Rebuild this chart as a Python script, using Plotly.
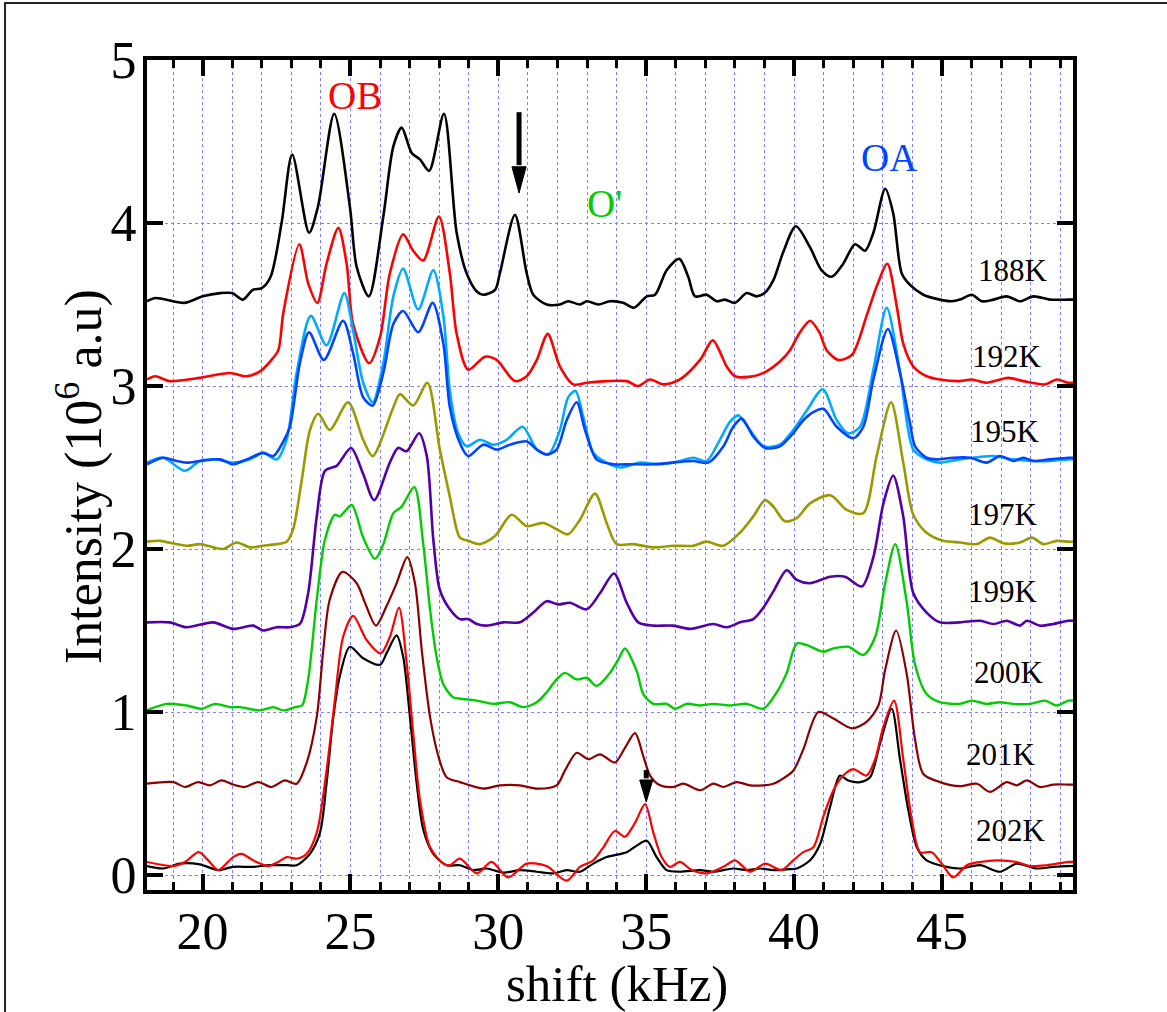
import plotly.graph_objects as go

# ---------------- data (shift in kHz, intensity in 10^6 a.u., offset per temperature) -------------
x_188 = [18.12, 18.4, 19.4, 20.0, 20.6, 21.0, 21.36, 21.7, 22.0, 22.3, 22.67, 23.03, 23.6, 23.9, 24.45, 24.98,
         25.21, 25.62, 26.11, 26.45, 26.73, 27.07, 27.35, 27.66, 28.16, 28.59, 28.93, 29.27, 29.49, 29.89,
         30.05, 30.56, 30.96, 31.18, 31.63, 32.08, 32.36, 32.76, 32.99, 33.38, 33.77, 34.22, 34.59, 35.02,
         35.30, 35.69, 36.12, 36.42, 36.65, 37.04, 37.38, 37.66, 38.00, 38.40, 38.73, 39.0, 39.30, 39.63,
         40.06, 40.54, 40.93, 41.27, 41.66, 42.06, 42.40, 42.68, 43.08, 43.35, 43.64, 43.92, 44.37, 44.93,
         45.33, 45.61, 46.01, 46.34, 46.74, 47.19, 47.64, 48.09, 48.65, 49.27, 49.43]
y_188 = [3.52, 3.54, 3.51, 3.55, 3.57, 3.57, 3.53, 3.59, 3.60, 3.67, 4.00, 4.42, 3.94, 4.10, 4.67, 4.10,
         3.73, 3.55, 4.04, 4.47, 4.585, 4.43, 4.39, 4.32, 4.67, 3.94, 3.69, 3.58, 3.56, 3.59,
         3.69, 4.05, 3.69, 3.56, 3.50, 3.50, 3.52, 3.50, 3.52, 3.50, 3.52, 3.51, 3.48, 3.55,
         3.56, 3.71, 3.78, 3.67, 3.55, 3.56, 3.52, 3.53, 3.51, 3.57, 3.55, 3.57, 3.65, 3.82,
         3.98, 3.85, 3.71, 3.67, 3.75, 3.87, 3.83, 3.94, 4.21, 4.06, 3.69, 3.62, 3.56, 3.53,
         3.52, 3.53, 3.56, 3.52, 3.53, 3.55, 3.52, 3.55, 3.53, 3.53, 3.53]

x_192 = [18.12, 18.4, 18.89, 19.91, 20.92, 21.49, 21.94, 22.28, 22.56, 22.73, 23.27, 23.57, 23.88, 24.19,
         24.59, 24.87, 25.09, 25.63, 26.0, 26.33, 26.78, 27.12, 27.46, 27.99, 28.36, 28.59, 28.98, 29.55,
         29.94, 30.56, 30.96, 31.30, 31.67, 32.08, 32.53, 32.99, 33.66, 34.34, 34.73, 35.13, 35.58, 36.14,
         36.82, 37.25, 37.72, 38.00, 38.62, 39.07, 39.52, 39.86, 40.20, 40.54, 40.85, 41.10, 41.49, 41.95,
         42.45, 42.79, 43.15, 43.47, 43.69, 44.03, 44.48, 44.93, 45.61, 46.01, 46.51, 47.24, 47.75, 48.48,
         48.88, 49.27, 49.43]
y_192 = [3.04, 3.06, 3.03, 3.05, 3.08, 3.06, 3.09, 3.15, 3.22, 3.45, 3.87, 3.63, 3.51, 3.75,
         3.97, 3.75, 3.38, 3.14, 3.30, 3.69, 3.93, 3.83, 3.77, 4.04, 3.69, 3.32, 3.10, 3.18,
         3.16, 3.03, 3.06, 3.16, 3.32, 3.12, 3.01, 3.02, 3.03, 3.03, 3.00, 3.04, 3.01, 3.04,
         3.16, 3.28, 3.12, 3.06, 3.06, 3.09, 3.15, 3.22, 3.33, 3.40, 3.33, 3.22, 3.16, 3.19,
         3.43, 3.61, 3.75, 3.49, 3.26, 3.12, 3.06, 3.04, 3.03, 3.04, 3.02, 3.05, 3.03, 3.01,
         3.04, 3.02, 3.02]

x_195a = [18.12, 18.67, 19.40, 19.91, 20.47, 21.03, 21.60, 22.05, 22.50, 22.84, 23.18, 23.66, 24.19, 24.79,
          25.09, 25.43, 25.75, 26.11, 26.45, 26.78, 27.29, 27.80, 28.14, 28.36, 28.64, 28.93, 29.38, 29.83,
          30.28, 30.82, 31.30, 31.69, 32.08, 32.36, 32.61, 32.87, 33.21, 33.55, 34.11, 34.79, 35.47, 36.14,
          36.59, 37.04, 37.49, 37.83, 38.11, 38.51, 38.96, 39.52, 39.97, 40.43, 40.97, 41.44, 41.83, 42.23,
          42.68, 43.13, 43.58, 44.03, 44.48, 44.93, 45.61, 46.74, 47.41, 48.09, 48.65, 49.27, 49.43]
y_195a = [2.53, 2.56, 2.48, 2.54, 2.55, 2.53, 2.55, 2.59, 2.55, 2.67, 3.08, 3.43, 3.25, 3.57,
          3.34, 3.02, 2.90, 3.14, 3.55, 3.72, 3.47, 3.71, 3.43, 2.97, 2.71, 2.63, 2.67, 2.64,
          2.67, 2.75, 2.61, 2.58, 2.73, 2.93, 2.97, 2.81, 2.59, 2.54, 2.50, 2.53, 2.52, 2.54,
          2.56, 2.54, 2.67, 2.78, 2.82, 2.73, 2.63, 2.64, 2.73, 2.85, 2.98, 2.79, 2.71, 2.75,
          3.10, 3.48, 3.09, 2.61, 2.55, 2.53, 2.55, 2.57, 2.55, 2.54, 2.54, 2.55, 2.55]

x_195b = [18.12, 18.67, 19.12, 19.46, 19.91, 20.59, 21.03, 21.49, 22.05, 22.39, 22.73, 22.95, 23.29, 23.60,
          24.10, 24.75, 25.09, 25.43, 25.75, 26.11, 26.45, 26.78, 27.29, 27.78, 28.14, 28.36, 28.70, 28.98,
          29.49, 29.94, 30.39, 30.96, 31.30, 31.63, 31.97, 32.31, 32.65, 32.93, 33.32, 33.89, 34.56, 35.24,
          35.91, 36.59, 37.10, 37.61, 37.94, 38.23, 38.62, 39.02, 39.52, 39.97, 40.31, 40.65, 40.99, 41.44,
          42.00, 42.34, 42.68, 43.17, 43.58, 43.92, 44.09, 44.48, 44.82, 45.38, 45.95, 46.51, 46.96, 47.41,
          47.75, 48.09, 48.65, 49.27, 49.43]
y_195b = [2.52, 2.56, 2.54, 2.53, 2.54, 2.55, 2.52, 2.55, 2.59, 2.57, 2.66, 2.75, 3.14, 3.33,
          3.16, 3.40, 3.20, 2.93, 2.88, 3.08, 3.38, 3.46, 3.33, 3.51, 3.26, 2.87, 2.65, 2.57,
          2.64, 2.61, 2.64, 2.66, 2.61, 2.58, 2.61, 2.79, 2.90, 2.73, 2.55, 2.52, 2.52, 2.52,
          2.53, 2.54, 2.53, 2.63, 2.75, 2.80, 2.69, 2.62, 2.63, 2.71, 2.79, 2.84, 2.86, 2.75,
          2.68, 2.75, 3.04, 3.35, 3.08, 2.77, 2.63, 2.56, 2.55, 2.56, 2.56, 2.53, 2.57, 2.54,
          2.56, 2.54, 2.55, 2.56, 2.56]

x_197 = [18.12, 18.56, 19.46, 19.91, 20.36, 20.70, 21.15, 21.60, 22.05, 22.50, 22.84, 23.06, 23.35, 23.63,
         23.91, 24.30, 24.92, 25.43, 25.75, 26.45, 26.67, 27.12, 27.60, 28.02, 28.36, 28.59, 28.70, 28.98,
         29.38, 29.89, 30.45, 30.96, 31.52, 32.08, 32.36, 32.76, 33.27, 33.66, 34.00, 34.56, 35.24, 35.91,
         36.59, 37.04, 37.61, 38.17, 38.62, 39.02, 39.30, 39.69, 40.09, 40.54, 41.22, 41.78, 42.34, 42.79,
         43.28, 43.69, 44.03, 44.48, 45.05, 45.61, 46.18, 46.62, 47.07, 47.64, 48.04, 48.43, 48.88, 49.27, 49.43]
y_197 = [2.045, 2.05, 2.02, 2.03, 2.01, 2.00, 2.04, 2.01, 2.02, 2.03, 2.045, 2.12, 2.42, 2.73,
         2.83, 2.73, 2.90, 2.67, 2.57, 2.87, 2.95, 2.88, 3.02, 2.61, 2.32, 2.12, 2.07, 2.05,
         2.03, 2.08, 2.21, 2.14, 2.16, 2.11, 2.09, 2.18, 2.34, 2.16, 2.03, 2.03, 2.01, 2.02,
         2.02, 2.045, 2.02, 2.10, 2.20, 2.30, 2.26, 2.17, 2.19, 2.28, 2.33, 2.24, 2.22, 2.57,
         2.90, 2.53, 2.21, 2.10, 2.05, 2.04, 2.03, 2.07, 2.035, 2.04, 2.07, 2.03, 2.05, 2.045, 2.045]

x_199 = [18.12, 18.89, 19.46, 20.36, 21.03, 21.71, 22.05, 22.50, 22.95, 23.29, 23.57, 23.86, 24.14, 24.53,
         25.02, 25.43, 25.80, 26.33, 26.61, 26.90, 27.32, 27.58, 27.80, 28.02, 28.36, 28.70, 28.98, 29.27,
         29.60, 30.17, 30.73, 31.18, 31.63, 32.03, 32.42, 32.99, 33.44, 33.91, 34.34, 34.73, 35.24, 35.91,
         36.48, 37.27, 37.72, 38.17, 38.62, 38.96, 39.30, 39.75, 40.09, 40.54, 41.22, 41.72, 42.29, 42.68,
         43.02, 43.35, 43.69, 44.03, 44.48, 44.93, 45.61, 46.29, 46.74, 47.19, 47.64, 47.87, 48.31, 48.77,
         49.27, 49.43]
y_199 = [1.55, 1.55, 1.52, 1.55, 1.51, 1.53, 1.50, 1.52, 1.52, 1.54, 1.73, 2.20, 2.48, 2.51,
         2.62, 2.46, 2.30, 2.53, 2.62, 2.60, 2.71, 2.57, 2.06, 1.75, 1.63, 1.57, 1.57, 1.54,
         1.53, 1.55, 1.55, 1.61, 1.68, 1.66, 1.67, 1.63, 1.73, 1.85, 1.67, 1.55, 1.53, 1.53,
         1.51, 1.54, 1.52, 1.55, 1.57, 1.64, 1.74, 1.87, 1.81, 1.79, 1.83, 1.83, 1.77, 1.95,
         2.28, 2.45, 2.20, 1.73, 1.61, 1.55, 1.55, 1.56, 1.54, 1.56, 1.53, 1.56, 1.53, 1.54,
         1.56, 1.56]

x_200 = [18.12, 18.78, 19.46, 19.97, 20.42, 20.92, 21.26, 21.94, 22.39, 22.73, 23.12, 23.36, 23.57, 23.86,
         24.14, 24.47, 24.64, 25.04, 25.43, 25.83, 26.11, 26.45, 26.73, 27.16, 27.46, 27.69, 27.91, 28.14,
         28.47, 28.81, 29.27, 29.83, 30.39, 30.84, 31.30, 31.63, 31.97, 32.25, 32.65, 32.99, 33.32, 33.77,
         34.05, 34.28, 34.68, 34.90, 35.24, 35.69, 35.97, 36.37, 36.82, 37.27, 37.83, 38.40, 38.96, 39.41,
         39.75, 40.09, 40.43, 40.99, 41.33, 41.83, 42.34, 42.74, 43.08, 43.42, 43.81, 44.09, 44.48, 44.93,
         45.61, 46.01, 46.51, 46.96, 47.41, 47.98, 48.48, 48.88, 49.27, 49.43]
y_200 = [1.01, 1.05, 1.04, 1.02, 1.05, 1.03, 1.03, 1.01, 1.03, 1.01, 1.03, 1.04, 1.20, 1.69,
         2.06, 2.21, 2.20, 2.27, 2.07, 1.94, 2.03, 2.22, 2.26, 2.38, 2.03, 1.63, 1.34, 1.17,
         1.09, 1.08, 1.07, 1.05, 1.06, 1.03, 1.06, 1.12, 1.20, 1.24, 1.20, 1.21, 1.16, 1.24,
         1.32, 1.39, 1.25, 1.11, 1.05, 1.05, 1.02, 1.05, 1.04, 1.05, 1.04, 1.05, 1.02, 1.12,
         1.24, 1.42, 1.41, 1.37, 1.39, 1.40, 1.35, 1.46, 1.79, 2.03, 1.67, 1.29, 1.11, 1.06,
         1.05, 1.07, 1.05, 1.06, 1.05, 1.05, 1.07, 1.04, 1.07, 1.07]

x_201 = [18.12, 19.01, 19.40, 19.85, 20.25, 20.64, 21.03, 21.43, 21.88, 22.33, 22.78, 23.18, 23.52, 23.86,
         24.08, 24.30, 24.73, 25.21, 25.49, 25.86, 26.22, 26.56, 26.92, 27.18, 27.41, 27.69, 27.97, 28.25,
         28.70, 29.49, 30.05, 30.73, 31.30, 31.97, 32.25, 32.65, 33.04, 33.44, 33.94, 34.28, 34.62, 34.90,
         35.13, 35.47, 35.91, 36.25, 36.82, 37.27, 37.61, 38.06, 38.51, 38.96, 39.30, 39.52, 39.97, 40.31,
         40.82, 41.33, 41.95, 42.45, 42.85, 43.08, 43.45, 43.81, 44.09, 44.37, 44.93, 45.61, 46.18, 46.62,
         47.19, 47.53, 47.87, 48.31, 48.77, 49.27, 49.43]
y_201 = [0.56, 0.57, 0.54, 0.57, 0.55, 0.58, 0.555, 0.54, 0.57, 0.54, 0.58, 0.56, 0.69, 0.97,
         1.38, 1.69, 1.86, 1.79, 1.67, 1.53, 1.65, 1.79, 1.95, 1.79, 1.38, 0.97, 0.73, 0.60,
         0.57, 0.53, 0.55, 0.55, 0.53, 0.55, 0.64, 0.75, 0.71, 0.74, 0.69, 0.78, 0.87, 0.73,
         0.61, 0.55, 0.54, 0.56, 0.52, 0.56, 0.54, 0.57, 0.55, 0.55, 0.56, 0.58, 0.64, 0.77,
         1.00, 0.96, 0.90, 0.94, 1.04, 1.26, 1.50, 1.23, 0.83, 0.62, 0.57, 0.545, 0.56, 0.51,
         0.57, 0.55, 0.58, 0.54, 0.555, 0.555, 0.555]

x_202a = [18.12, 18.67, 19.23, 19.91, 20.53, 21.03, 21.71, 22.28, 22.84, 23.18, 23.63, 23.97, 24.19, 24.42,
          24.64, 24.98, 25.43, 26.00, 26.22, 26.56, 26.78, 27.01, 27.24, 27.46, 27.80, 28.25, 28.70, 29.15,
          29.60, 30.17, 30.73, 31.30, 31.86, 32.31, 32.76, 33.21, 33.66, 34.34, 34.68, 35.02, 35.35, 35.69,
          36.14, 36.82, 37.27, 37.94, 38.40, 38.85, 39.30, 39.75, 40.09, 40.54, 40.88, 41.22, 41.55, 41.83,
          42.23, 42.57, 42.91, 43.30, 43.58, 43.86, 44.15, 44.48, 45.16, 45.61, 46.29, 46.96, 47.53, 48.20,
          48.77, 49.27, 49.43]
y_202a = [0.055, 0.04, 0.07, 0.065, 0.03, 0.05, 0.05, 0.06, 0.06, 0.06, 0.13, 0.26, 0.56, 0.97,
          1.22, 1.40, 1.33, 1.29, 1.36, 1.47, 1.34, 0.97, 0.56, 0.28, 0.13, 0.06, 0.06, 0.03,
          0.04, 0.015, 0.03, 0.02, 0.01, 0.03, 0.02, 0.07, 0.11, 0.14, 0.18, 0.21, 0.11, 0.03,
          0.02, 0.03, 0.02, 0.04, 0.03, 0.04, 0.03, 0.035, 0.04, 0.09, 0.19, 0.42, 0.61, 0.58,
          0.57, 0.60, 0.81, 1.02, 0.71, 0.40, 0.17, 0.09, 0.05, 0.04, 0.06, 0.02, 0.07, 0.04,
          0.05, 0.055, 0.055]

x_202b = [18.12, 19.01, 19.40, 19.87, 20.19, 20.53, 21.03, 21.32, 21.71, 22.22, 22.56, 22.84, 23.18, 23.52,
          23.86, 24.19, 24.47, 24.75, 25.09, 25.55, 26.02, 26.33, 26.64, 26.90, 27.12, 27.35, 27.69, 28.14,
          28.36, 28.70, 29.27, 29.77, 30.33, 30.96, 31.63, 32.31, 32.76, 33.21, 33.55, 33.94, 34.28, 34.62,
          34.96, 35.24, 35.52, 35.80, 36.14, 36.54, 37.04, 37.61, 38.00, 38.51, 39.02, 39.58, 39.97, 40.31,
          40.65, 40.99, 41.33, 41.66, 42.00, 42.45, 42.74, 43.02, 43.38, 43.69, 43.98, 44.26, 44.65, 44.99,
          45.38, 45.84, 46.29, 46.85, 47.53, 47.98, 48.54, 49.27, 49.43]
y_202b = [0.08, 0.055, 0.08, 0.14, 0.09, 0.03, 0.11, 0.13, 0.09, 0.055, 0.08, 0.11, 0.10, 0.13,
          0.26, 0.64, 1.07, 1.46, 1.59, 1.44, 1.36, 1.46, 1.64, 1.30, 0.87, 0.46, 0.17, 0.07,
          0.06, 0.10, 0.01, 0.08, -0.015, 0.07, 0.055, -0.035, 0.05, 0.09, 0.17, 0.27, 0.235, 0.32,
          0.435, 0.26, 0.11, 0.05, 0.08, 0.03, 0.01, 0.05, 0.09, 0.02, 0.07, 0.03, 0.09, 0.14,
          0.17, 0.36, 0.52, 0.61, 0.65, 0.61, 0.71, 0.91, 1.07, 0.71, 0.34, 0.14, 0.14, 0.07,
          -0.015, 0.06, 0.08, 0.09, 0.08, 0.055, 0.06, 0.08, 0.08]

series = [
    ("188K", x_188, y_188, "#000000", 2.6),
    ("192K", x_192, y_192, "#ff0000", 2.6),
    ("195K (a)", x_195a, y_195a, "#00aaff", 2.6),
    ("195K (b)", x_195b, y_195b, "#0044ff", 2.6),
    ("197K", x_197, y_197, "#999900", 2.6),
    ("199K", x_199, y_199, "#5200a8", 2.6),
    ("200K", x_200, y_200, "#00cc00", 2.4),
    ("201K", x_201, y_201, "#8b0000", 2.2),
    ("202K (a)", x_202a, y_202a, "#000000", 2.2),
    ("202K (b)", x_202b, y_202b, "#ff0000", 2.2),
]

temp_labels = ["188K", "192K", "195K", "197K", "199K", "200K", "201K", "202K"]
temp_label_x = [47.40, 47.20, 47.13, 47.06, 47.06, 47.27, 47.00, 47.34]
temp_label_y = [3.71, 3.18, 2.72, 2.21, 1.74, 1.24, 0.74, 0.27]

peak_labels = ["OB", "O'", "OA"]
peak_label_x = [25.15, 33.58, 43.21]
peak_label_y = [4.785, 4.12, 4.40]
peak_label_colors = ["#ff0000", "#00cc00", "#0044ff"]

# arrows: (x, tail y, head-base y, tip y, half width of head in kHz)
arrows = [(30.70, 4.68, 4.345, 4.184, 0.24), (35.0, 0.644, 0.583, 0.448, 0.22)]

x_range = [18.12, 49.43]
y_range = [-0.092, 5.0]
x_major = [20, 25, 30, 35, 40, 45]
y_major = [0, 1, 2, 3, 4, 5]

FONT = "Liberation Serif, serif"
GRID = "#8080ff"

fig = go.Figure()
for name, xs, ys, col, w in series:
    fig.add_trace(go.Scatter(x=xs, y=ys, mode="lines", name=name,
                             line=dict(color=col, width=w, shape="spline", smoothing=0.8),
                             showlegend=False))

for t, tx, ty in zip(temp_labels, temp_label_x, temp_label_y):
    fig.add_annotation(x=tx, y=ty, text=t, showarrow=False, xref="x", yref="y",
                       font=dict(family=FONT, size=31, color="black"))

for t, tx, ty, c in zip(peak_labels, peak_label_x, peak_label_y, peak_label_colors):
    fig.add_annotation(x=tx, y=ty, text=t, showarrow=False, xref="x", yref="y",
                       font=dict(family=FONT, size=39, color=c))

for ax_, ytail, ybase, ytip, hw in arrows:
    fig.add_shape(type="line", xref="x", yref="y", x0=ax_, x1=ax_, y0=ytail, y1=ybase + 0.01,
                  line=dict(color="black", width=5))
    fig.add_shape(type="path", xref="x", yref="y",
                  path=f"M {ax_ - hw},{ybase} L {ax_ + hw},{ybase} L {ax_},{ytip} Z",
                  fillcolor="black", line=dict(color="black", width=1))

# axis titles
fig.add_annotation(x=0.508, y=-0.113, xref="paper", yref="paper", text="shift (kHz)",
                   showarrow=False, font=dict(family=FONT, size=51, color="black"),
                   xanchor="center", yanchor="middle")
fig.add_annotation(x=-0.073, y=0.498, xref="paper", yref="paper",
                   text="Intensity (10<sup>6</sup> a.u)", textangle=-90,
                   showarrow=False, font=dict(family=FONT, size=52, color="black"),
                   xanchor="center", yanchor="middle")

# outer frame of the picture
fig.add_shape(type="rect", xref="paper", yref="paper", x0=-0.1533, x1=1.3, y0=-0.3, y1=1.0687,
              line=dict(color="#222222", width=2), fillcolor="rgba(0,0,0,0)", layer="above")

fig.update_xaxes(range=x_range, tickvals=x_major, ticks="inside", ticklen=16, tickwidth=4,
                 tickcolor="black", showline=True, linewidth=4, linecolor="black", mirror="ticks",
                 showgrid=True, gridcolor=GRID, griddash="dot", gridwidth=1, zeroline=False,
                 ticklabelstandoff=-7,
                 tickfont=dict(family=FONT, size=52, color="black"),
                 minor=dict(dtick=1, tick0=0, ticks="inside", ticklen=8, tickwidth=3, tickcolor="black",
                            showgrid=True, gridcolor=GRID, griddash="dot", gridwidth=1))
fig.update_yaxes(range=y_range, tickvals=y_major, ticks="inside", ticklen=16, tickwidth=4,
                 tickcolor="black", showline=True, linewidth=4, linecolor="black", mirror="ticks",
                 showgrid=True, gridcolor=GRID, griddash="dot", gridwidth=1, zeroline=False,
                 ticklabelstandoff=-4,
                 tickfont=dict(family=FONT, size=52, color="black"))

fig.update_layout(width=1167, height=1012, margin=dict(l=147, r=94, t=60, b=122),
                  paper_bgcolor="white", plot_bgcolor="white", showlegend=False,
                  font=dict(family=FONT))

fig.write_html("out.html")
